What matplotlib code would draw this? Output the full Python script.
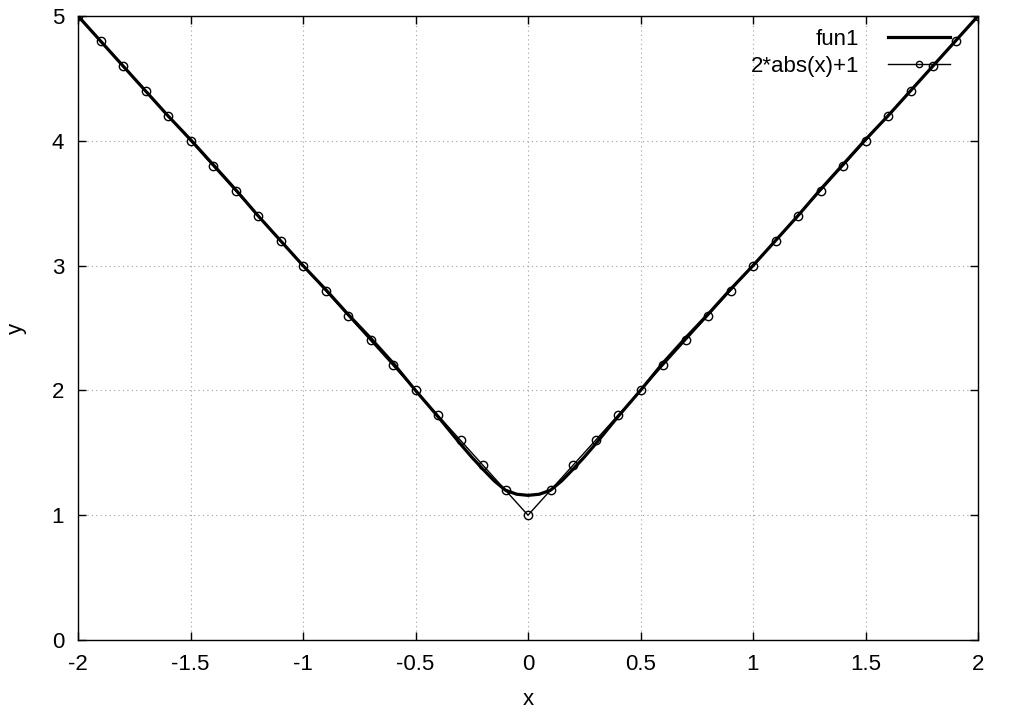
import numpy as np
import matplotlib
matplotlib.use("Agg")
import matplotlib.pyplot as plt

plt.rcParams['font.family'] = ['Liberation Sans', 'DejaVu Sans']

# fun1 (smooth fit)
fun1_x = [-2.0, -1.9, -1.8, -1.7, -1.6, -1.5, -1.4, -1.3, -1.2, -1.1, -1.0,
          -0.9, -0.8, -0.7, -0.6, -0.5, -0.45, -0.4, -0.35, -0.3, -0.25, -0.2,
          -0.15, -0.1, -0.05, 0.0, 0.05, 0.1, 0.15, 0.2, 0.25, 0.3, 0.35, 0.4,
          0.45, 0.5, 0.6, 0.7, 0.8, 0.9, 1.0, 1.1, 1.2, 1.3, 1.4, 1.5, 1.6,
          1.7, 1.8, 1.9, 2.0]
fun1_y = [5.0, 4.8, 4.6, 4.4, 4.2, 4.01, 3.81, 3.61, 3.4, 3.2, 3.0,
          2.81, 2.61, 2.42, 2.22, 2.0, 1.895, 1.79, 1.68, 1.57, 1.465, 1.368,
          1.275, 1.2, 1.168, 1.159, 1.168, 1.2, 1.275, 1.368, 1.465, 1.57, 1.68, 1.79,
          1.895, 2.0, 2.22, 2.42, 2.61, 2.81, 3.0, 3.2, 3.4, 3.61, 3.81, 4.01, 4.2,
          4.4, 4.6, 4.8, 5.0]

# 2*abs(x)+1 sampled points
abs_x = [-2.0, -1.9, -1.8, -1.7, -1.6, -1.5, -1.4, -1.3, -1.2, -1.1, -1.0,
         -0.9, -0.8, -0.7, -0.6, -0.5, -0.4, -0.3, -0.2, -0.1, 0.0,
         0.1, 0.2, 0.3, 0.4, 0.5, 0.6, 0.7, 0.8, 0.9, 1.0,
         1.1, 1.2, 1.3, 1.4, 1.5, 1.6, 1.7, 1.8, 1.9, 2.0]
abs_y = [5.0, 4.8, 4.6, 4.4, 4.2, 4.0, 3.8, 3.6, 3.4, 3.2, 3.0,
         2.8, 2.6, 2.4, 2.2, 2.0, 1.8, 1.6, 1.4, 1.2, 1.0,
         1.2, 1.4, 1.6, 1.8, 2.0, 2.2, 2.4, 2.6, 2.8, 3.0,
         3.2, 3.4, 3.6, 3.8, 4.0, 4.2, 4.4, 4.6, 4.8, 5.0]

x_ticks = [-2, -1.5, -1, -0.5, 0, 0.5, 1, 1.5, 2]
x_tick_labels = ['-2', '-1.5', '-1', '-0.5', '0', '0.5', '1', '1.5', '2']
y_ticks = [0, 1, 2, 3, 4, 5]

fig = plt.figure(figsize=(10.22, 7.15), dpi=100)
ax = fig.add_axes([78 / 1022, 1 - 640 / 715, 900 / 1022, 624 / 715])

ax.plot(fun1_x, fun1_y, color='black', linewidth=2.3, label='fun1',
        solid_joinstyle='round', zorder=3)
ax.plot(abs_x, abs_y, color='black', linewidth=1.0, marker='o', markersize=6,
        markerfacecolor='none', markeredgewidth=1.0, label='2*abs(x)+1', zorder=4)

ax.set_xlim(-2, 2)
ax.set_ylim(0, 5)
ax.set_xticks(x_ticks)
ax.set_xticklabels(x_tick_labels)
ax.set_yticks(y_ticks)

ax.tick_params(direction='in', length=6, width=1, top=True, right=True,
               labelsize=16, colors='black')
ax.tick_params(axis='x', pad=10)
ax.tick_params(axis='y', pad=10)
ax.grid(True, linestyle=(0, (1, 3)), color='#a0a0a0', linewidth=0.8)
for s in ax.spines.values():
    s.set_linewidth(1.0)

ax.set_xlabel('x', fontsize=16, labelpad=10)
ax.set_ylabel('y', fontsize=16, labelpad=18)

leg = ax.legend(loc='upper right', bbox_to_anchor=(950 / 1022, 1 - 29 / 715),
                bbox_transform=fig.transFigure, frameon=False, fontsize=16,
                markerfirst=False, handlelength=2.8, handletextpad=1.3,
                borderaxespad=0, borderpad=0, labelspacing=0.25, markerscale=0.75)
for t in leg.get_texts():
    t.set_ha('right')

fig.savefig('out.png', dpi=100)
